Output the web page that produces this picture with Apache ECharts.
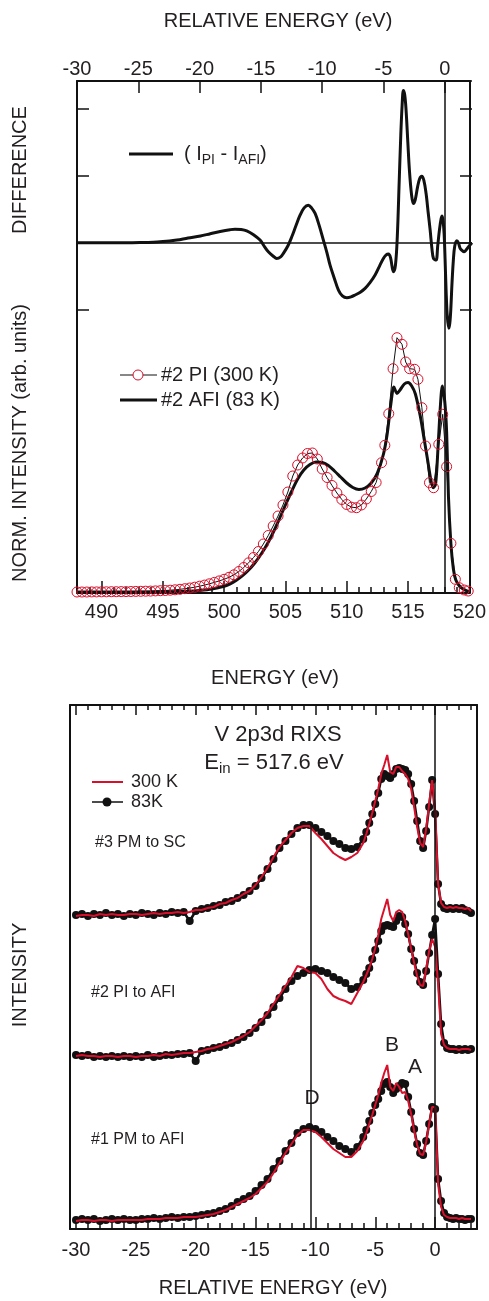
<!DOCTYPE html>
<html>
<head>
<meta charset="utf-8">
<script src="https://cdn.jsdelivr.net/npm/echarts@6.0.0/dist/echarts.min.js"></script>
<style>
  html, body { margin: 0; padding: 0; background: #fff; }
  #chart { width: 489px; height: 1301px; }
</style>
</head>
<body>
<div id="chart"></div>
<script>
// ---- top panel: XAS (energy, norm. intensity) ----
const afiCurve = [
  [488, 0.000], [490, 0.000], [492, 0.000], [494, 0.001], [495, 0.002], [496, 0.004],
  [497, 0.008], [498, 0.016], [499, 0.030], [500, 0.058], [500.5, 0.082], [501, 0.117],
  [501.5, 0.163], [502, 0.220], [502.5, 0.290], [503, 0.375], [503.5, 0.475], [504, 0.595],
  [504.5, 0.730], [505, 0.870], [505.5, 1.005], [506, 1.130], [506.5, 1.220], [507, 1.275],
  [507.5, 1.300], [508, 1.295], [508.5, 1.265], [509, 1.210], [509.5, 1.150], [510, 1.090],
  [510.5, 1.045], [511, 1.025], [511.5, 1.040], [512, 1.090], [512.5, 1.190], [513, 1.380],
  [513.3, 1.580], [513.6, 1.880], [513.85, 2.050], [514.1, 1.985], [514.35, 2.020], [514.7, 2.080],
  [515.0, 2.095], [515.3, 2.060], [515.6, 1.980], [516.0, 1.760], [516.3, 1.540], [516.6, 1.320],
  [516.85, 1.130], [517.05, 1.043], [517.25, 1.080], [517.45, 1.450], [517.65, 1.880], [517.8, 2.060],
  [518.0, 1.900], [518.15, 1.600], [518.3, 0.950], [518.5, 0.480], [518.7, 0.230], [518.9, 0.120],
  [519.2, 0.060], [519.5, 0.030], [519.8, 0.012], [520, 0.005]
];

const piCurve = [
  [488.0, 0.000], [488.4, 0.000], [488.8, 0.000], [489.2, 0.001], [489.6, 0.001], [490.0, 0.002],
  [490.4, 0.002], [490.8, 0.003], [491.2, 0.003], [491.6, 0.004], [492.0, 0.004], [492.4, 0.005],
  [492.8, 0.006], [493.2, 0.007], [493.6, 0.008], [494.0, 0.009], [494.4, 0.011], [494.8, 0.013],
  [495.2, 0.015], [495.6, 0.018], [496.0, 0.022], [496.4, 0.027], [496.8, 0.033], [497.2, 0.040],
  [497.6, 0.048], [498.0, 0.058], [498.4, 0.069], [498.8, 0.082], [499.2, 0.096], [499.6, 0.111],
  [500.0, 0.127], [500.4, 0.147], [500.8, 0.172], [501.2, 0.205], [501.6, 0.245], [502.0, 0.292],
  [502.4, 0.345], [502.8, 0.405], [503.2, 0.480], [503.6, 0.565], [504.0, 0.660], [504.4, 0.760],
  [504.8, 0.870], [505.2, 1.000], [505.6, 1.160], [506.0, 1.270], [506.4, 1.340], [506.8, 1.385],
  [507.2, 1.390], [507.6, 1.330], [508.0, 1.230], [508.4, 1.145], [508.8, 1.065], [509.2, 0.990],
  [509.6, 0.925], [510.0, 0.875], [510.4, 0.848], [510.8, 0.843], [511.2, 0.870], [511.6, 0.930],
  [512.0, 1.005], [512.4, 1.095], [512.84, 1.293], [513.11, 1.467], [513.43, 1.783], [513.78, 2.233],
  [514.10, 2.543], [514.51, 2.477], [514.81, 2.300], [515.13, 2.233], [515.54, 2.227], [515.81, 2.127],
  [516.13, 1.843], [516.43, 1.460], [516.75, 1.093], [517.08, 1.043], [517.51, 1.477], [517.83, 1.777],
  [518.15, 1.253], [518.50, 0.487], [518.86, 0.127], [519.18, 0.043], [519.59, 0.020], [519.91, 0.010]
];

// difference (I_PI - I_AFI) vs relative energy
const diffCurve = [
  [-30, 0], [-28, 0], [-26, 0], [-24.5, 0.005], [-23.5, 0.01], [-22.5, 0.025], [-21.9, 0.04],
  [-21, 0.07], [-20, 0.10], [-19.2, 0.135], [-18.4, 0.168], [-17.6, 0.195], [-17.2, 0.203],
  [-16.7, 0.198], [-16.25, 0.178], [-15.7, 0.12], [-15.17, 0.04], [-14.8, -0.06], [-14.5, -0.134],
  [-14.1, -0.2], [-13.82, -0.233], [-13.5, -0.21], [-13.28, -0.158], [-12.9, -0.04], [-12.6, 0.089],
  [-12.25, 0.26], [-11.93, 0.41], [-11.6, 0.52], [-11.26, 0.56], [-11.0, 0.52], [-10.71, 0.436],
  [-10.4, 0.27], [-10.04, 0.04], [-9.75, -0.15], [-9.5, -0.332], [-9.15, -0.53], [-8.82, -0.703],
  [-8.5, -0.79], [-8.14, -0.817], [-7.8, -0.805], [-7.47, -0.777], [-7.05, -0.735], [-6.66, -0.678],
  [-6.25, -0.59], [-5.85, -0.48], [-5.5, -0.35], [-5.18, -0.233], [-4.95, -0.18], [-4.77, -0.168],
  [-4.6, -0.22], [-4.37, -0.43], [-4.2, -0.33], [-4.05, 0.1], [-3.9, 0.9], [-3.77, 1.6],
  [-3.66, 2.05], [-3.56, 2.267], [-3.45, 2.2], [-3.34, 1.97], [-3.2, 1.5], [-3.07, 1.079],
  [-2.9, 0.72], [-2.75, 0.584], [-2.6, 0.64], [-2.42, 0.82], [-2.25, 0.95], [-2.07, 0.99],
  [-1.9, 0.93], [-1.72, 0.733], [-1.55, 0.45], [-1.39, 0.188], [-1.25, -0.08], [-1.12, -0.233],
  [-0.91, -0.257], [-0.78, -0.05], [-0.64, 0.188], [-0.5, 0.36], [-0.42, 0.4], [-0.34, 0.32],
  [-0.26, 0.139], [-0.18, -0.25], [-0.1, -0.703], [0.0, -1.1], [0.12, -1.272], [0.2, -1.2],
  [0.28, -1.0], [0.38, -0.6], [0.49, -0.257], [0.6, -0.05], [0.77, 0.03], [0.9, 0.0],
  [1.04, -0.084], [1.17, -0.11], [1.36, -0.134], [1.55, -0.1], [1.71, -0.06], [1.9, -0.02], [2.0, 0.0]
];

// ---- bottom panel: RIXS, E_in = 517.6 eV (offset spectra as plotted) ----
const rixsEnergy = [
  -30, -29.5, -29, -28.5, -28, -27.5, -27, -26.5, -26, -25.5,
  -25, -24.5, -24, -23.5, -23, -22.5, -22, -21.5, -21, -20.5,
  -20, -19.5, -19, -18.5, -18, -17.5, -17, -16.5, -16, -15.5,
  -15, -14.5, -14, -13.5, -13, -12.5, -12, -11.5, -11, -10.5,
  -10, -9.5, -9, -8.5, -8, -7.5, -7, -6.5,
  -6, -5.75, -5.5, -5.25, -5, -4.75, -4.5, -4.25, -4, -3.75,
  -3.5, -3.25, -3, -2.75, -2.5, -2.25, -2, -1.75, -1.5, -1.25,
  -1, -0.75, -0.5, -0.25, 0, 0.25, 0.5, 0.75, 1, 1.25,
  1.5, 1.75, 2, 2.25, 2.5, 2.75, 3
];
const pmSc83K = [
  3.14, 3.15, 3.13, 3.15, 3.14, 3.16, 3.14, 3.15, 3.13, 3.15,
  3.14, 3.16, 3.15, 3.14, 3.16, 3.15, 3.17, 3.16, 3.17, 3.08,
  3.18, 3.20, 3.21, 3.23, 3.24, 3.27, 3.28, 3.31, 3.34, 3.38,
  3.43, 3.51, 3.60, 3.70, 3.81, 3.88, 3.95, 4.01, 4.04, 4.04,
  4.01, 3.97, 3.93, 3.88, 3.85, 3.81, 3.80, 3.82,
  3.90, 3.97, 4.06, 4.15, 4.25, 4.36, 4.50, 4.55, 4.53, 4.51,
  4.55, 4.60, 4.61, 4.60, 4.59, 4.55, 4.45, 4.28, 4.08, 3.88,
  3.81, 3.98, 4.22, 4.49, 4.15, 3.45, 3.25, 3.21, 3.20, 3.21,
  3.20, 3.21, 3.20, 3.21, 3.19, 3.18, 3.16
];
const pmSc300K = [
  3.13, 3.14, 3.14, 3.13, 3.15, 3.14, 3.15, 3.14, 3.14, 3.15,
  3.15, 3.14, 3.15, 3.16, 3.15, 3.16, 3.16, 3.17, 3.16, 3.17,
  3.19, 3.19, 3.21, 3.22, 3.25, 3.26, 3.29, 3.31, 3.35, 3.38,
  3.44, 3.52, 3.61, 3.72, 3.82, 3.89, 3.96, 4.01, 4.03, 4.03,
  3.96, 3.90, 3.83, 3.76, 3.72, 3.69, 3.72, 3.76,
  3.86, 3.95, 4.05, 4.16, 4.28, 4.40, 4.55, 4.64, 4.74, 4.57,
  4.55, 4.62, 4.62, 4.58, 4.55, 4.50, 4.40, 4.22, 4.02, 3.86,
  3.82, 4.00, 4.25, 4.49, 4.20, 3.45, 3.26, 3.22, 3.21, 3.22,
  3.21, 3.22, 3.21, 3.21, 3.20, 3.21, 3.18
];
const piAfi83K = [
  1.74, 1.73, 1.74, 1.72, 1.73, 1.72, 1.73, 1.72, 1.73, 1.72,
  1.73, 1.72, 1.74, 1.72, 1.73, 1.74, 1.74, 1.75, 1.75, 1.76,
  1.68, 1.78, 1.79, 1.81, 1.82, 1.84, 1.86, 1.89, 1.92, 1.96,
  2.01, 2.07, 2.14, 2.22, 2.31, 2.40, 2.48, 2.53, 2.56, 2.59,
  2.60, 2.58, 2.56, 2.52, 2.49, 2.46, 2.40, 2.42,
  2.49, 2.55, 2.61, 2.70, 2.79, 2.88, 2.98, 3.03, 3.04, 3.03,
  3.02, 3.08, 3.13, 3.12, 3.05, 2.95, 2.80, 2.68, 2.56, 2.47,
  2.44, 2.58, 2.76, 2.94, 3.10, 2.55, 2.05, 1.86, 1.81, 1.80,
  1.80, 1.79, 1.80, 1.79, 1.80, 1.79, 1.80
];
const piAfi300K = [
  1.73, 1.74, 1.73, 1.73, 1.72, 1.73, 1.73, 1.72, 1.73, 1.73,
  1.72, 1.73, 1.73, 1.74, 1.73, 1.75, 1.74, 1.75, 1.76, 1.76,
  1.77, 1.78, 1.80, 1.81, 1.83, 1.85, 1.87, 1.90, 1.93, 1.97,
  2.03, 2.09, 2.16, 2.25, 2.34, 2.43, 2.52, 2.63, 2.61, 2.57,
  2.56, 2.50, 2.40, 2.33, 2.30, 2.28, 2.25, 2.36,
  2.47, 2.54, 2.61, 2.70, 2.81, 2.94, 3.10, 3.20, 3.30, 3.14,
  3.08, 3.17, 3.19, 3.17, 3.08, 2.95, 2.80, 2.66, 2.53, 2.44,
  2.43, 2.60, 2.78, 2.90, 2.82, 2.45, 1.95, 1.84, 1.81, 1.80,
  1.80, 1.80, 1.79, 1.80, 1.80, 1.80, 1.79
];
const pmAfi83K = [
  0.09, 0.10, 0.09, 0.10, 0.08, 0.09, 0.10, 0.09, 0.10, 0.09,
  0.09, 0.10, 0.10, 0.11, 0.10, 0.11, 0.12, 0.11, 0.12, 0.12,
  0.13, 0.14, 0.15, 0.16, 0.18, 0.20, 0.23, 0.27, 0.30, 0.33,
  0.38, 0.44, 0.50, 0.60, 0.68, 0.78, 0.86, 0.96, 1.00, 1.02,
  1.00, 0.97, 0.92, 0.88, 0.83, 0.80, 0.77, 0.82,
  0.92, 0.99, 1.08, 1.16, 1.24, 1.30, 1.38, 1.45, 1.47, 1.42,
  1.36, 1.40, 1.43, 1.46, 1.45, 1.32, 1.17, 1.00, 0.85, 0.76,
  0.74, 0.88, 1.05, 1.22, 1.20, 0.50, 0.28, 0.16, 0.12, 0.11,
  0.10, 0.11, 0.10, 0.10, 0.09, 0.10, 0.10
];
const pmAfi300K = [
  0.08, 0.09, 0.09, 0.08, 0.09, 0.09, 0.08, 0.09, 0.09, 0.09,
  0.09, 0.09, 0.10, 0.10, 0.10, 0.11, 0.11, 0.11, 0.12, 0.12,
  0.12, 0.13, 0.14, 0.15, 0.17, 0.19, 0.22, 0.25, 0.28, 0.31,
  0.35, 0.41, 0.47, 0.56, 0.66, 0.76, 0.85, 0.94, 0.99, 0.99,
  0.97, 0.92, 0.86, 0.80, 0.76, 0.72, 0.72, 0.78,
  0.88, 0.96, 1.05, 1.14, 1.24, 1.34, 1.46, 1.56, 1.64, 1.42,
  1.38, 1.46, 1.42, 1.36, 1.37, 1.28, 1.15, 0.98, 0.84, 0.75,
  0.74, 0.87, 1.05, 1.22, 1.22, 0.45, 0.22, 0.14, 0.12, 0.11,
  0.11, 0.11, 0.10, 0.11, 0.10, 0.10, 0.10
];

// axis ticks / labels
const energyTickLabels = [490, 495, 500, 505, 510, 515, 520];
const relTickLabels = [-30, -25, -20, -15, -10, -5, 0];
const relTopTicks = [-25, -20, -15, -10, -5, 0];
const peakMarks = [['D', -10.4], ['B', -3.9], ['A', -2.0]];

const RED = '#d7102b';
const INK = '#111';
const TXT = '#231f20';
const FONT = '"Liberation Sans", Arial, Helvetica, sans-serif';

function range(a, b, step) {
  const out = [];
  for (let v = a; v <= b + 1e-9; v += step) out.push(Math.round(v * 100) / 100);
  return out;
}
const energyMinor = range(489, 519, 1);
const relMinor = range(-30, 3, 1);
const relMajor = relTickLabels;

const frame = { show: true, onZero: false, lineStyle: { color: INK, width: 2 } };
const noLine = { show: false, onZero: false };
const tickStyle = { color: INK, width: 1.5 };
const labelStyle = { color: TXT, fontSize: 20, fontFamily: FONT };

function xAx(grid, pos, min, max, o) {
  return Object.assign({
    type: 'value', gridIndex: grid, position: pos, min: min, max: max,
    axisLine: noLine, axisTick: { show: false }, axisLabel: { show: false },
    splitLine: { show: false }
  }, o);
}
function yAx(grid, pos, min, max, o) {
  return Object.assign({
    type: 'value', gridIndex: grid, position: pos, min: min, max: max,
    axisLine: frame, axisTick: { show: false }, axisLabel: { show: false },
    splitLine: { show: false }
  }, o);
}
const zip = (xs, ys) => xs.map((x, i) => [x, ys[i]]);

const chart = echarts.init(document.getElementById('chart'), null, { renderer: 'canvas' });

const txt = (x, y, text, size, extra) => ({
  type: 'text', x: x, y: y, silent: true,
  style: Object.assign({ text: text, fill: TXT, fontSize: size, fontFamily: FONT,
    align: 'center', verticalAlign: 'middle' }, extra || {})
});
const rot = (x, y, text) => Object.assign(txt(x, y, text, 20), { rotation: Math.PI / 2 });

chart.setOption({
  animation: false,
  backgroundColor: '#fff',
  grid: [
    { left: 77, top: 81, width: 395, height: 512 },
    { left: 77, top: 81, width: 395, height: 229 },
    { left: 70, top: 705, width: 407, height: 524 }
  ],
  xAxis: [
    // top panel, bottom: energy
    xAx(0, 'bottom', 488, 520, {
      axisLine: frame,
      axisTick: { show: true, inside: true, length: 12, customValues: energyTickLabels, lineStyle: tickStyle },
      axisLabel: { show: true, customValues: energyTickLabels, margin: 9, ...labelStyle }
    }),
    xAx(0, 'bottom', 488, 520, {
      axisTick: { show: true, inside: true, length: 6, customValues: energyMinor, lineStyle: tickStyle }
    }),
    // top panel, top: relative energy
    xAx(0, 'top', -30, 2, {
      axisLine: frame,
      axisTick: { show: true, inside: true, length: 12, customValues: relTopTicks, lineStyle: tickStyle },
      axisLabel: { show: true, customValues: relTickLabels, margin: 2, ...labelStyle }
    }),
    // difference overlay grid
    xAx(1, 'bottom', -30, 2, { show: false }),
    // bottom panel
    xAx(2, 'bottom', -30.5, 3.5, {
      axisLine: frame,
      axisTick: { show: true, inside: true, length: 12, customValues: relMajor, lineStyle: tickStyle },
      axisLabel: { show: true, customValues: relTickLabels, margin: 11, ...labelStyle }
    }),
    xAx(2, 'bottom', -30.5, 3.5, {
      axisTick: { show: true, inside: true, length: 6, customValues: relMinor, lineStyle: tickStyle }
    }),
    xAx(2, 'top', -30.5, 3.5, {
      axisLine: frame,
      axisTick: { show: true, inside: true, length: 10, customValues: relMajor, lineStyle: tickStyle }
    }),
    xAx(2, 'top', -30.5, 3.5, {
      axisTick: { show: true, inside: true, length: 5, customValues: relMinor, lineStyle: tickStyle }
    })
  ],
  yAxis: [
    yAx(0, 'left', -0.01, 5.11),
    yAx(0, 'right', -0.01, 5.11),
    yAx(1, 'left', -1, 2.407, {
      interval: 1, axisLine: noLine,
      axisTick: { show: true, inside: true, length: 12, lineStyle: tickStyle }
    }),
    yAx(1, 'right', -1, 2.407, {
      interval: 1, axisLine: noLine,
      axisTick: { show: true, inside: true, length: 12, lineStyle: tickStyle }
    }),
    yAx(2, 'left', 0, 5.24),
    yAx(2, 'right', 0, 5.24)
  ],
  series: [
    {
      name: 'diff', type: 'line', xAxisIndex: 3, yAxisIndex: 2, data: diffCurve,
      smooth: 0.35, symbol: 'none', clip: false,
      lineStyle: { color: INK, width: 3 },
      markLine: {
        silent: true, symbol: ['none', 'none'], label: { show: false },
        lineStyle: { color: INK, width: 1.5, type: 'solid' },
        data: [{ yAxis: 0 }]
      }
    },
    {
      name: '#2 AFI (83 K)', type: 'line', xAxisIndex: 0, yAxisIndex: 0, data: afiCurve,
      smooth: 0.3, symbol: 'none', lineStyle: { color: INK, width: 3 },
      markLine: {
        silent: true, symbol: ['none', 'none'], label: { show: false },
        lineStyle: { color: INK, width: 1.5, type: 'solid' },
        data: [{ xAxis: 518 }]
      }
    },
    {
      name: '#2 PI (300 K)', type: 'line', xAxisIndex: 0, yAxisIndex: 0, data: piCurve,
      symbol: 'circle', symbolSize: 10, showAllSymbol: true,
      lineStyle: { color: INK, width: 1 },
      itemStyle: { color: 'rgba(255,255,255,0)', borderColor: RED, borderWidth: 1 },
      z: 3
    },
    // bottom panel spectra
    ...[[pmSc83K, pmSc300K], [piAfi83K, piAfi300K], [pmAfi83K, pmAfi300K]].flatMap((pair, k) => [
      Object.assign({
        name: '83K', type: 'line', xAxisIndex: 4, yAxisIndex: 4, data: zip(rixsEnergy, pair[0]),
        symbol: 'circle', symbolSize: 8, showAllSymbol: true,
        lineStyle: { color: INK, width: 2.5 }, itemStyle: { color: INK }, z: 2
      }, k === 0 ? {
        markLine: {
          silent: true, symbol: ['none', 'none'], label: { show: false },
          lineStyle: { color: INK, width: 1.5, type: 'solid' },
          data: [
            { xAxis: 0 },
            [{ coord: [peakMarks[0][1], 0] }, { coord: [peakMarks[0][1], 4.06] }]
          ]
        }
      } : {}),
      {
        name: '300 K', type: 'line', xAxisIndex: 4, yAxisIndex: 4, data: zip(rixsEnergy, pair[1]),
        symbol: 'none', lineStyle: { color: RED, width: 2 }, z: 3
      }
    ])
  ],
  graphic: {
    elements: [
      txt(278, 21, 'RELATIVE ENERGY (eV)', 20),
      rot(20, 170, 'DIFFERENCE'),
      rot(20, 443, 'NORM. INTENSITY (arb. units)'),
      txt(275, 678, 'ENERGY (eV)', 20),
      rot(20, 975, 'INTENSITY'),
      txt(273, 1288, 'RELATIVE ENERGY (eV)', 20),
      // difference legend
      { type: 'line', silent: true, shape: { x1: 129, y1: 154, x2: 173, y2: 154 }, style: { stroke: INK, lineWidth: 3 } },
      txt(184, 154, '( I{s|PI} - I{s|AFI})', 20, {
        align: 'left', rich: { s: { fontSize: 14, fontFamily: FONT, fill: TXT, padding: [12, 0, 0, 0] } }
      }),
      // XAS legend
      { type: 'line', silent: true, shape: { x1: 120, y1: 375, x2: 157, y2: 375 }, style: { stroke: INK, lineWidth: 1 } },
      { type: 'circle', silent: true, shape: { cx: 138, cy: 375, r: 5 }, style: { fill: '#fff', stroke: RED, lineWidth: 1 } },
      txt(161, 375, '#2 PI (300 K)', 20, { align: 'left' }),
      { type: 'line', silent: true, shape: { x1: 120, y1: 400, x2: 157, y2: 400 }, style: { stroke: INK, lineWidth: 3 } },
      txt(161, 400, '#2 AFI (83 K)', 20, { align: 'left' }),
      // RIXS annotations
      txt(278, 735, 'V 2p3d RIXS', 22),
      txt(274, 763, 'E{s|in} = 517.6 eV', 22, {
        rich: { s: { fontSize: 15, fontFamily: FONT, fill: TXT, padding: [12, 0, 0, 0] } }
      }),
      { type: 'line', silent: true, shape: { x1: 92, y1: 782, x2: 123, y2: 782 }, style: { stroke: RED, lineWidth: 2 } },
      txt(131, 782, '300 K', 18, { align: 'left' }),
      { type: 'line', silent: true, shape: { x1: 92, y1: 802, x2: 123, y2: 802 }, style: { stroke: INK, lineWidth: 1.5 } },
      { type: 'circle', silent: true, shape: { cx: 107, cy: 802, r: 4.5 }, style: { fill: INK } },
      txt(131, 802, '83K', 18, { align: 'left' }),
      txt(95, 843, '#3 PM to SC', 16, { align: 'left' }),
      txt(91, 993, '#2 PI to AFI', 16, { align: 'left' }),
      txt(91, 1140, '#1 PM to AFI', 16, { align: 'left' }),
      txt(392, 1045, 'B', 21),
      txt(415, 1067, 'A', 21),
      txt(312, 1098, 'D', 21)
    ]
  }
});
</script>
</body>
</html>
